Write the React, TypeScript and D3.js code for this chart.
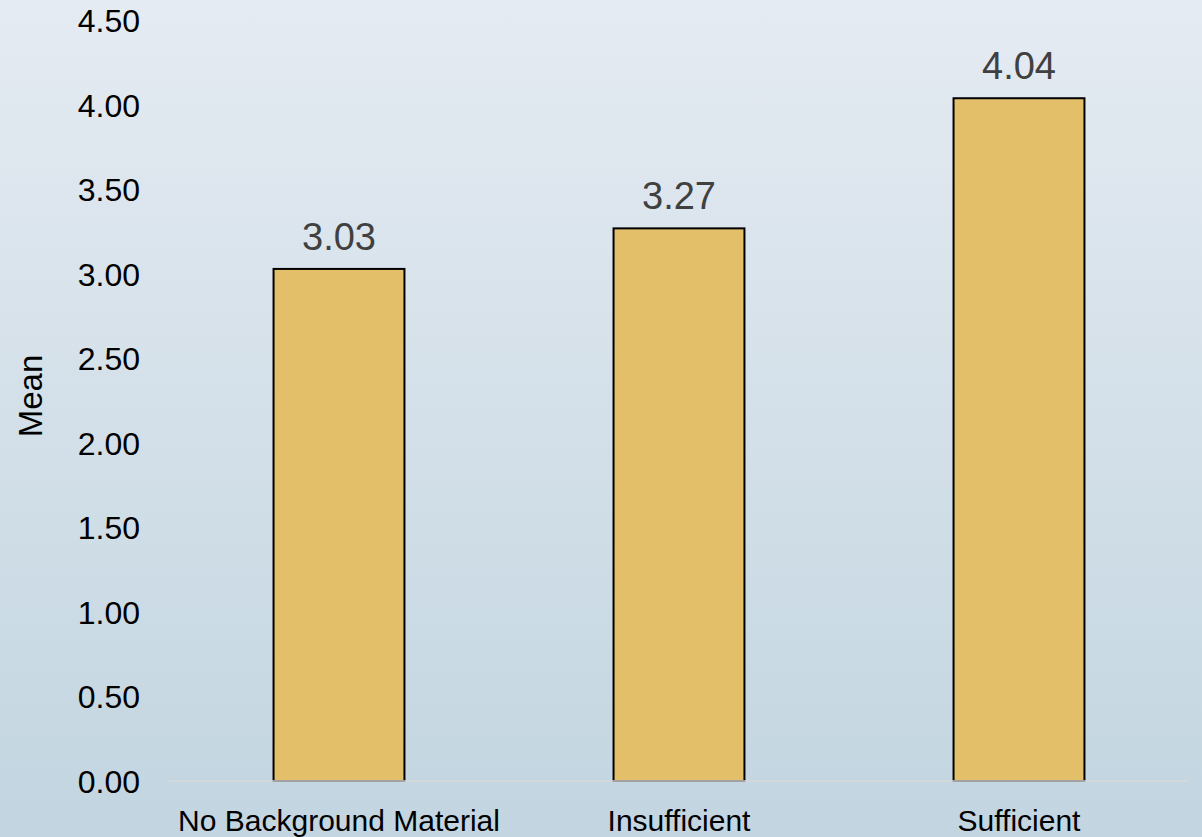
import React from "react";
import * as d3 from "d3";

const categories: string[] = ["No Background Material", "Insufficient", "Sufficient"];
const means: number[] = [3.03, 3.27, 4.04];
const yTicks: number[] = [0, 0.5, 1, 1.5, 2, 2.5, 3, 3.5, 4, 4.5];

const W = 1202;
const H = 837;
const FONT = "'Liberation Sans', Arial, sans-serif";

export default function App() {
  const x = d3.scaleBand<string>().domain(categories).range([169, 1189]).padding(0);
  const y = d3.scaleLinear().domain([0, 4.5]).range([781, 20.5]);
  const barW = x.bandwidth() * 0.385;

  return (
    <svg
      width={W}
      height={H}
      style={{ position: "absolute", left: 0, top: 0, display: "block" }}
    >
      <defs>
        <linearGradient id="bg" x1="0" y1="0" x2="0" y2="1">
          <stop offset="0%" stopColor="#e5ebf2" />
          <stop offset="100%" stopColor="#c2d5e0" />
        </linearGradient>
      </defs>
      <rect x={0} y={0} width={W} height={H} fill="url(#bg)" />

      {yTicks.map((t) => (
        <text
          key={t}
          x={140}
          y={y(t)}
          dy="0.36em"
          textAnchor="end"
          fontFamily={FONT}
          fontSize={32}
          fill="#000"
        >
          {d3.format(".2f")(t)}
        </text>
      ))}

      <text
        transform={`translate(42,${396}) rotate(-90)`}
        textAnchor="middle"
        fontFamily={FONT}
        fontSize={33}
        fill="#000"
      >
        Mean
      </text>

      {categories.map((c, i) => {
        const cx = (x(c) as number) + x.bandwidth() / 2;
        const top = y(means[i]);
        return (
          <g key={c}>
            <rect
              x={cx - barW / 2}
              y={top}
              width={barW}
              height={y(0) - top}
              fill="#e4bf6a"
              stroke="#000"
              strokeWidth={2}
            />
            <text
              x={cx}
              y={top - 19}
              textAnchor="middle"
              fontFamily={FONT}
              fontSize={38}
              fill="#404040"
            >
              {d3.format(".2f")(means[i])}
            </text>
            <text
              x={cx}
              y={831}
              textAnchor="middle"
              fontFamily={FONT}
              fontSize={30}
              fill="#000"
            >
              {c}
            </text>
          </g>
        );
      })}

      <line x1={169} x2={1189} y1={y(0)} y2={y(0)} stroke="#d9d9d9" strokeWidth={1.5} />
    </svg>
  );
}
